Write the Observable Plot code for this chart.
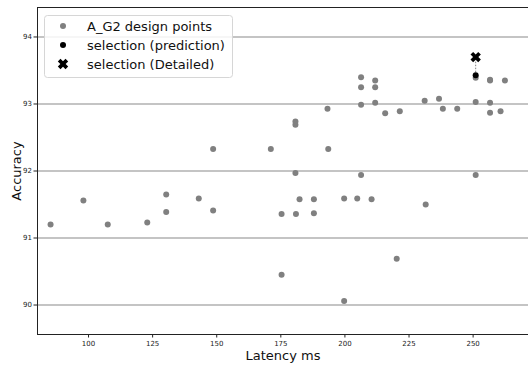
<!DOCTYPE html>
<html><head><meta charset="utf-8">
<script src="https://cdn.jsdelivr.net/npm/d3@7"></script>
<script src="https://cdn.jsdelivr.net/npm/@observablehq/plot@0.6"></script>
<style>body{margin:0;background:#fff} #chart svg{font-family:"DejaVu Sans",sans-serif;display:block}</style>
</head><body><div id="chart"></div>
<script>
const latency = [85.2, 98.0, 107.5, 122.9, 130.3, 130.3, 143.0, 148.6, 148.6, 171.1,
  175.3, 175.3, 180.7, 180.7, 180.9, 180.7, 182.3, 187.9, 187.9, 193.2,
  193.5, 199.7, 199.7, 204.8, 206.3, 206.3, 206.3, 206.3, 210.4, 211.8,
  211.8, 211.8, 215.7, 220.2, 221.4, 231.1, 231.5, 236.7, 238.2, 243.8,
  251.0, 251.0, 251.0, 256.6, 256.6, 256.6, 256.6, 260.7, 262.4];
const accuracy = [91.20, 91.56, 91.20, 91.23, 91.65, 91.39, 91.59, 91.41, 92.33, 92.33,
  91.36, 90.45, 92.74, 92.69, 91.36, 91.97, 91.58, 91.58, 91.37, 92.93,
  92.33, 91.59, 90.06, 91.59, 93.40, 93.25, 92.99, 91.94, 91.58, 93.35,
  93.25, 93.02, 92.86, 90.69, 92.89, 93.05, 91.50, 93.08, 92.93, 92.93,
  93.39, 93.03, 91.94, 93.36, 93.35, 93.02, 92.87, 92.89, 93.35];
const selLatency = [251.0];
const selPrediction = [93.43];
const selDetailed = [93.70];
const xTicks = [100, 125, 150, 175, 200, 225, 250];
const yTicks = [90, 91, 92, 93, 94];
const legendLabels = ["A_G2 design points", "selection (prediction)", "selection (Detailed)"];
const xLabel = "Latency ms";
const yLabel = "Accuracy";

const points = latency.map((x, i) => ({x, y: accuracy[i]}));
const sel = selLatency.map((x, i) => ({x, pred: selPrediction[i], det: selDetailed[i]}));

const xDomain = [80.1, 271.6];
const yDomain = [89.56, 94.44];

const filledX = {
  draw(context, size) {
    const r = Math.sqrt(size / Math.PI);
    const R = r * 1.05, t = r * 0.36;
    const pts = [[t,R],[t,t],[R,t],[R,-t],[t,-t],[t,-R],[-t,-R],[-t,-t],[-R,-t],[-R,t],[-t,t],[-t,R]];
    const c = Math.SQRT1_2;
    pts.forEach(([px, py], i) => {
      const qx = (px - py) * c, qy = (px + py) * c;
      if (i === 0) context.moveTo(qx, qy); else context.lineTo(qx, qy);
    });
    context.closePath();
  }
};

const plot = Plot.plot({
  width: 528, height: 365,
  marginLeft: 37, marginRight: 0, marginTop: 7, marginBottom: 31,
  style: {fontFamily: "DejaVu Sans", fontSize: "7px", color: "#222", background: "#fff"},
  x: {domain: xDomain, ticks: xTicks, label: null},
  y: {domain: yDomain, ticks: yTicks, label: null},
  marks: [
    Plot.ruleY(yTicks, {stroke: "#b0b0b0", strokeWidth: 1.5}),
    Plot.axisX({ticks: xTicks, tickSize: 3.5, tickPadding: 3, label: null, stroke: "#222", fontSize: 7, tickFormat: d => String(d)}),
    Plot.axisY({ticks: yTicks, tickSize: 3.5, tickPadding: 2, label: null, stroke: "#222", fontSize: 7, tickFormat: d => String(d)}),
    Plot.ruleX([xDomain[0]], {stroke: "#222", strokeWidth: 1}),
    Plot.ruleY([yDomain[0], yDomain[1]], {stroke: "#222", strokeWidth: 1}),
    Plot.dot(points, {x: "x", y: "y", r: 3, fill: "#808080", stroke: "none"}),
    Plot.link(sel, {x1: "x", x2: "x", y1: "pred", y2: "det", stroke: "#808080", strokeWidth: 1, strokeDasharray: "1.5,1.5"}),
    Plot.dot(sel, {x: "x", y: "pred", r: 3, fill: "black", stroke: "none"}),
    Plot.dot(sel, {x: "x", y: "det", r: 5.2, fill: "black", stroke: "none", symbol: filledX}),
    Plot.text([xLabel], {frameAnchor: "bottom", dy: 25, fontSize: 13, fill: "#111", textAnchor: "middle"}),
    Plot.text([yLabel], {frameAnchor: "left", dx: -21, rotate: -90, fontSize: 13, fill: "#111", textAnchor: "middle"})
  ]
});
document.getElementById("chart").appendChild(plot);

// legend inside the axes
const svg = d3.select(plot);
const lg = svg.append("g").attr("font-family", "DejaVu Sans").attr("font-size", 13).attr("text-anchor", "start");
lg.append("rect").attr("x", 44.5).attr("y", 15.5).attr("width", 188).attr("height", 62)
  .attr("rx", 3).attr("fill", "white").attr("fill-opacity", 0.85).attr("stroke", "#d6d6d6");
const rowsY = [26, 45, 64];
lg.append("circle").attr("cx", 63).attr("cy", rowsY[0]).attr("r", 3).attr("fill", "#808080");
lg.append("circle").attr("cx", 63).attr("cy", rowsY[1]).attr("r", 3).attr("fill", "black");
lg.append("path").attr("transform", `translate(63,${rowsY[2]})`)
  .attr("d", d3.symbol(filledX, Math.PI * 5.2 * 5.2)()).attr("fill", "black");
legendLabels.forEach((t, i) => {
  lg.append("text").attr("x", 87).attr("y", rowsY[i]).attr("dy", "0.35em").attr("fill", "#111").attr("text-anchor", "start").text(t);
});
</script></body></html>
